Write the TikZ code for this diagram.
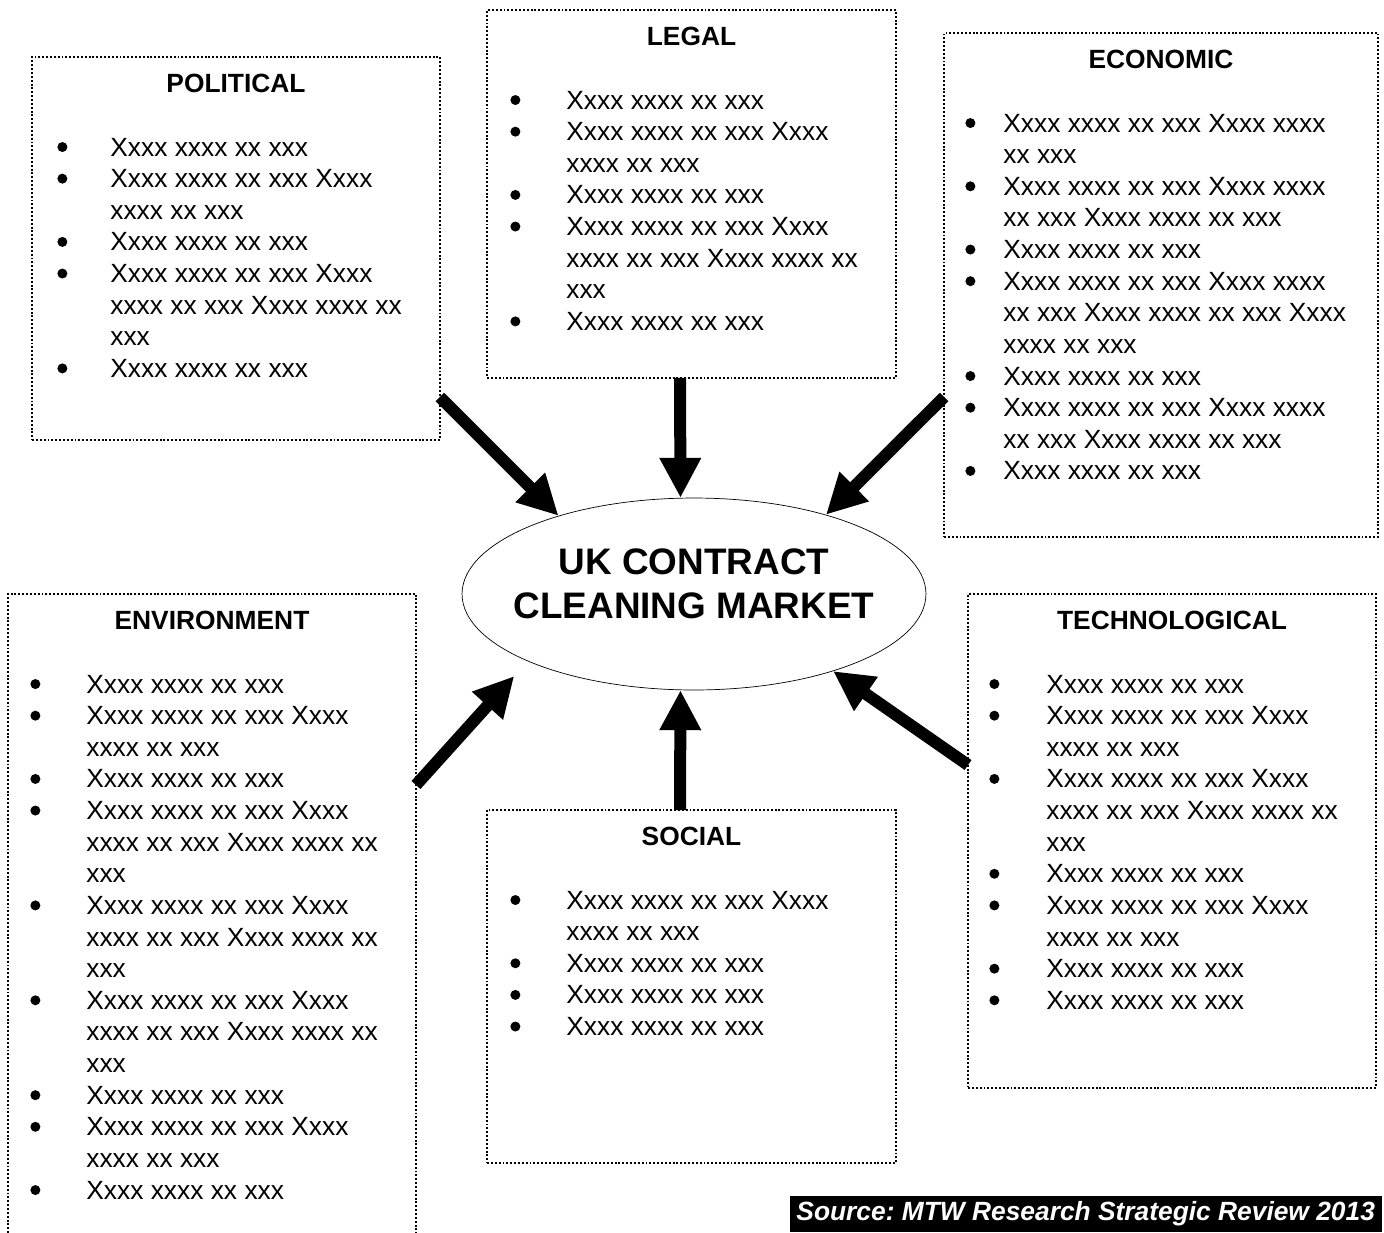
\documentclass[tikz,border=0pt]{standalone}
\usepackage{fontspec}
\setmainfont{Liberation Sans}
\usetikzlibrary{arrows.meta,shapes.geometric}
\newcommand{\pestdot}{\tikz[baseline={(0,-0.18cm)}]\fill (0,0) circle (0.1cm);}
\newcommand{\pestlist}[2]{\begin{tabular}[t]{@{}p{#1}@{}l@{}}#2\end{tabular}}
\begin{document}
\begin{tikzpicture}[x=0.02cm,y=-0.02cm,
    factor/.style={draw,line width=1.1pt,dash pattern=on 1.1pt off 1.1pt,inner sep=0pt,outer sep=0pt},
    factortitle/.style={anchor=base,font=\fontsize{15}{18}\selectfont\bfseries},
    factoritems/.style={anchor=base west,inner sep=0pt,font=\fontsize{15}{18}\selectfont},
    force/.style={line width=0.24cm,-{Triangle[length=0.8cm,width=0.78cm]}}]
    \useasboundingbox (0,0) rectangle (1384,1232);
    %% Centre
    \node[draw,ellipse,thin,inner sep=0pt,minimum width=9.28cm,minimum height=3.84cm] (market) at (694,594) {};
    \node[align=center,font=\fontsize{21}{25}\selectfont\bfseries] (marketlabel)
        at ([yshift=0.2cm]market.center) {UK CONTRACT\\CLEANING MARKET};
    %% Boxes
    \node[factor,minimum width=8.16cm,minimum height=7.66cm] (pol) at (236,248.5) {};
    \node[factor,minimum width=8.18cm,minimum height=7.36cm] (leg) at (691.5,194) {};
    \node[factor,minimum width=8.68cm,minimum height=10.08cm] (eco) at (1161,285) {};
    \node[factor,minimum width=8.16cm,minimum height=12.92cm] (env) at (212,917) {};
    \node[factor,minimum width=8.18cm,minimum height=7.06cm] (soc) at (691.5,986.5) {};
    \node[factor,minimum width=8.16cm,minimum height=9.88cm] (tech) at (1172,841) {};
    %% Titles
    \node[factortitle] (poltitle) at ([yshift=-0.7cm]pol.north) {POLITICAL};
    \node[factortitle] (legtitle) at ([yshift=-0.7cm]leg.north) {LEGAL};
    \node[factortitle] (ecotitle) at ([yshift=-0.7cm]eco.north) {ECONOMIC};
    \node[factortitle] (envtitle) at ([yshift=-0.7cm]env.north) {ENVIRONMENT};
    \node[factortitle] (soctitle) at ([yshift=-0.7cm]soc.north) {SOCIAL};
    \node[factortitle] (techtitle) at ([yshift=-0.7cm]tech.north) {TECHNOLOGICAL};
    %% Items
    \node[factoritems] (politems) at ([xshift=0.5cm,yshift=-1.98cm]pol.north west) {\pestlist{1.06cm}{%
        \pestdot & Xxxx xxxx xx xxx\\
        \pestdot & Xxxx xxxx xx xxx Xxxx\\ & xxxx xx xxx\\
        \pestdot & Xxxx xxxx xx xxx\\
        \pestdot & Xxxx xxxx xx xxx Xxxx\\ & xxxx xx xxx Xxxx xxxx xx\\ & xxx\\
        \pestdot & Xxxx xxxx xx xxx}};
    \node[factoritems] (legitems) at ([xshift=0.46cm,yshift=-1.98cm]leg.north west) {\pestlist{1.12cm}{%
        \pestdot & Xxxx xxxx xx xxx\\
        \pestdot & Xxxx xxxx xx xxx Xxxx\\ & xxxx xx xxx\\
        \pestdot & Xxxx xxxx xx xxx\\
        \pestdot & Xxxx xxxx xx xxx Xxxx\\ & xxxx xx xxx Xxxx xxxx xx\\ & xxx\\
        \pestdot & Xxxx xxxx xx xxx}};
    \node[factoritems] (ecoitems) at ([xshift=0.42cm,yshift=-1.98cm]eco.north west) {\pestlist{0.76cm}{%
        \pestdot & Xxxx xxxx xx xxx Xxxx xxxx\\ & xx xxx\\
        \pestdot & Xxxx xxxx xx xxx Xxxx xxxx\\ & xx xxx Xxxx xxxx xx xxx\\
        \pestdot & Xxxx xxxx xx xxx\\
        \pestdot & Xxxx xxxx xx xxx Xxxx xxxx\\ & xx xxx Xxxx xxxx xx xxx Xxxx\\ & xxxx xx xxx\\
        \pestdot & Xxxx xxxx xx xxx\\
        \pestdot & Xxxx xxxx xx xxx Xxxx xxxx\\ & xx xxx Xxxx xxxx xx xxx\\
        \pestdot & Xxxx xxxx xx xxx}};
    \node[factoritems] (envitems) at ([xshift=0.44cm,yshift=-1.98cm]env.north west) {\pestlist{1.12cm}{%
        \pestdot & Xxxx xxxx xx xxx\\
        \pestdot & Xxxx xxxx xx xxx Xxxx\\ & xxxx xx xxx\\
        \pestdot & Xxxx xxxx xx xxx\\
        \pestdot & Xxxx xxxx xx xxx Xxxx\\ & xxxx xx xxx Xxxx xxxx xx\\ & xxx\\
        \pestdot & Xxxx xxxx xx xxx Xxxx\\ & xxxx xx xxx Xxxx xxxx xx\\ & xxx\\
        \pestdot & Xxxx xxxx xx xxx Xxxx\\ & xxxx xx xxx Xxxx xxxx xx\\ & xxx\\
        \pestdot & Xxxx xxxx xx xxx\\
        \pestdot & Xxxx xxxx xx xxx Xxxx\\ & xxxx xx xxx\\
        \pestdot & Xxxx xxxx xx xxx}};
    \node[factoritems] (socitems) at ([xshift=0.46cm,yshift=-1.98cm]soc.north west) {\pestlist{1.12cm}{%
        \pestdot & Xxxx xxxx xx xxx Xxxx\\ & xxxx xx xxx\\
        \pestdot & Xxxx xxxx xx xxx\\
        \pestdot & Xxxx xxxx xx xxx\\
        \pestdot & Xxxx xxxx xx xxx}};
    \node[factoritems] (techitems) at ([xshift=0.42cm,yshift=-1.98cm]tech.north west) {\pestlist{1.14cm}{%
        \pestdot & Xxxx xxxx xx xxx\\
        \pestdot & Xxxx xxxx xx xxx Xxxx\\ & xxxx xx xxx\\
        \pestdot & Xxxx xxxx xx xxx Xxxx\\ & xxxx xx xxx Xxxx xxxx xx\\ & xxx\\
        \pestdot & Xxxx xxxx xx xxx\\
        \pestdot & Xxxx xxxx xx xxx Xxxx\\ & xxxx xx xxx\\
        \pestdot & Xxxx xxxx xx xxx\\
        \pestdot & Xxxx xxxx xx xxx}};
    %% Arrows
    \draw[force] (pol.east |- 0,397) -- (market.150);
    \draw[force] (leg.south -| 680,0) -- (market.98);
    \draw[force] (eco.west |- 0,397) -- (market.31);
    \draw[force,shorten >=0.4cm] (env.east |- 0,785) -- (market.202);
    \draw[force] (soc.north -| 680,0) -- (market.262);
    \draw[force] (tech.west |- 0,765) -- (market.331);
    %% Source
    \node[fill=black,text=white,inner sep=0pt,minimum width=11.84cm,minimum height=0.72cm,
        anchor=south east,font=\fontsize{15}{18}\selectfont\bfseries\itshape]
        (source) at (1382,1232) {\frenchspacing Source: MTW Research Strategic Review 2013};
\end{tikzpicture}
\end{document}
